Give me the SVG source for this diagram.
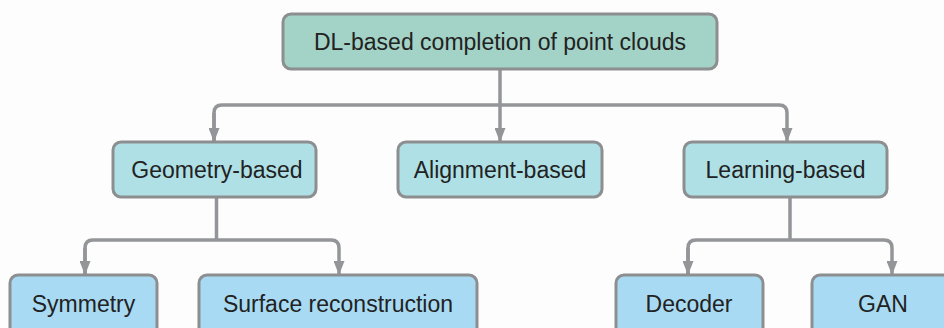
<svg xmlns="http://www.w3.org/2000/svg" width="944" height="328" viewBox="0 0 944 328">
  <defs>
    <marker id="arrow" viewBox="0 0 14 11" refX="14" refY="5.5" markerWidth="14" markerHeight="11" markerUnits="userSpaceOnUse" orient="auto">
      <path d="M0,0 L14,5.5 L0,11 Z" fill="#939598"/>
    </marker>
    <style>
      .box { stroke: #8c8e90; stroke-width: 3; }
      .root { fill: #a3d2c6; }
      .mid { fill: #aee0e6; }
      .leaf { fill: #a8dbf3; }
      .label { font-family: "Liberation Sans", Arial, sans-serif; font-size: 23px; fill: #222222; text-anchor: middle; }
      .wire { fill: none; stroke: #939598; stroke-width: 3.5; }
    </style>
  </defs>
  <rect width="944" height="328" fill="#fdfdfd"/>

  <g id="connectors">
    <!-- root to second level -->
    <path class="wire" d="M500,69 V105"/>
    <path class="wire" d="M214,142 V113 Q214,105 222,105 H779 Q787,105 787,113 V142" marker-end="url(#arrow)"/>
    <path class="wire" d="M214,113 V142" marker-end="url(#arrow)"/>
    <path class="wire" d="M500,105 V142" marker-end="url(#arrow)"/>
    <!-- geometry branch -->
    <path class="wire" d="M216.5,197 V240"/>
    <path class="wire" d="M85,275 V248 Q85,240 93,240 H331 Q339,240 339,248 V275" marker-end="url(#arrow)"/>
    <path class="wire" d="M85,248 V275" marker-end="url(#arrow)"/>
    <!-- learning branch -->
    <path class="wire" d="M790,197 V240"/>
    <path class="wire" d="M688,275 V248 Q688,240 696,240 H884 Q892,240 892,248 V275" marker-end="url(#arrow)"/>
    <path class="wire" d="M688,248 V275" marker-end="url(#arrow)"/>
  </g>

  <g id="root">
    <rect class="box root" x="283" y="14" width="434" height="55" rx="8"/>
    <text class="label" x="500" y="50">DL-based completion of point clouds</text>
  </g>

  <g id="geometry">
    <rect class="box mid" x="113" y="142" width="203" height="55" rx="8"/>
    <text class="label" x="217" y="178">Geometry-based</text>
  </g>
  <g id="alignment">
    <rect class="box mid" x="398" y="142" width="204" height="55" rx="8"/>
    <text class="label" x="500" y="178">Alignment-based</text>
  </g>
  <g id="learning">
    <rect class="box mid" x="684" y="142" width="203" height="55" rx="8"/>
    <text class="label" x="785.5" y="178">Learning-based</text>
  </g>

  <g id="symmetry">
    <rect class="box leaf" x="10" y="275" width="147" height="70" rx="8"/>
    <text class="label" x="83.5" y="312">Symmetry</text>
  </g>
  <g id="surface">
    <rect class="box leaf" x="199" y="275" width="278" height="70" rx="8"/>
    <text class="label" x="338" y="312">Surface reconstruction</text>
  </g>
  <g id="decoder">
    <rect class="box leaf" x="616" y="275" width="147" height="70" rx="8"/>
    <text class="label" x="689" y="312">Decoder</text>
  </g>
  <g id="gan">
    <rect class="box leaf" x="812" y="275" width="160" height="70" rx="8"/>
    <text class="label" x="883" y="312">GAN</text>
  </g>
</svg>
